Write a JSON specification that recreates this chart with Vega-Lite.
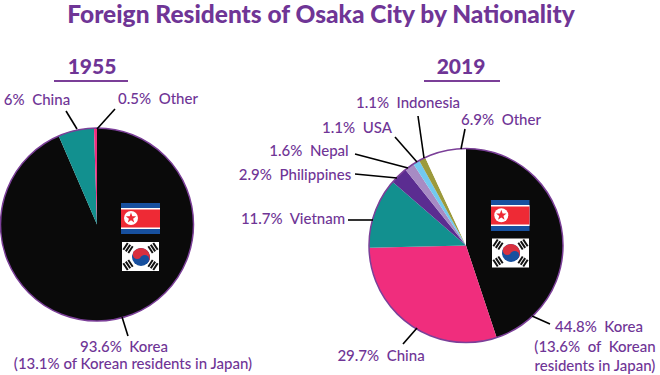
{
"$schema":"https://vega.github.io/schema/vega-lite/v6.json",
"width":660,"height":375,"padding":0,"autosize":{"type":"none"},
"background":"white",
"title":{"text":"Foreign Residents of Osaka City by Nationality","font":"Lato","fontWeight":900,"fontSize":24.5,"color":"#6f3596","anchor":"middle","frame":"group","offset":-24,"dx":-9,"dy":4},
"config":{"view":{"stroke":null}},
"datasets":{
"slices":[
{"year":1955,"nationality":"Korea","share":93.6,"rank":1},
{"year":1955,"nationality":"China","share":6,"rank":2},
{"year":1955,"nationality":"Other","share":0.5,"rank":3},
{"year":2019,"nationality":"Korea","share":44.8,"rank":1},
{"year":2019,"nationality":"China","share":29.7,"rank":2},
{"year":2019,"nationality":"Vietnam","share":11.7,"rank":3},
{"year":2019,"nationality":"Philippines","share":2.9,"rank":4},
{"year":2019,"nationality":"Nepal","share":1.6,"rank":5},
{"year":2019,"nationality":"USA","share":1.1,"rank":6},
{"year":2019,"nationality":"Indonesia","share":1.1,"rank":7},
{"year":2019,"nationality":"Other","share":6.9,"rank":8}],
"labels":[
{"label":"6%\u00a0 China","x":37,"y":100},
{"label":"0.5%\u00a0 Other","x":158,"y":99},
{"label":"93.6%\u00a0 Korea","x":124,"y":347},
{"label":"(13.1%\u00a0of Korean residents in Japan)","x":133,"y":364},
{"label":"1.1%\u00a0 Indonesia","x":408,"y":103},
{"label":"1.1%\u00a0 USA","x":357,"y":128},
{"label":"6.9%\u00a0 Other","x":501,"y":120},
{"label":"1.6%\u00a0 Nepal","x":309,"y":151},
{"label":"2.9%\u00a0 Philippines","x":295,"y":175},
{"label":"11.7%\u00a0 Vietnam","x":293,"y":219},
{"label":"29.7%\u00a0 China","x":381,"y":356},
{"label":"44.8%\u00a0 Korea","x":599,"y":327},
{"label":"(13.6%\u00a0 of\u00a0 Korean","x":595,"y":347},
{"label":"residents in Japan)","x":595,"y":366}],
"leaders":[
{"x":66,"y":111,"x2":77,"y2":129},
{"x":115,"y":109,"x2":97,"y2":129},
{"x":128,"y":336,"x2":122,"y2":317},
{"x":418,"y":116,"x2":424,"y2":158},
{"x":395,"y":137,"x2":417,"y2":162},
{"x":355,"y":154,"x2":408,"y2":168},
{"x":355,"y":174,"x2":397,"y2":178},
{"x":465,"y":129,"x2":461,"y2":149},
{"x":348,"y":220,"x2":373,"y2":220},
{"x":403,"y":344,"x2":417,"y2":328},
{"x":550,"y":324,"x2":532,"y2":316}],
"headers":[
{"year":"1955","x":92,"y":68,"x1":54,"x2":128,"rule":81},
{"year":"2019","x":461,"y":68,"x1":424,"x2":500,"rule":81}],
"flagRects":[
{"part":"blue","x":121,"x2":160,"y":203,"y2":234},
{"part":"white","x":121,"x2":160,"y":208,"y2":229},
{"part":"red","x":121,"x2":160,"y":209.5,"y2":227.5},
{"part":"blue","x":491,"x2":529.5,"y":200,"y2":231},
{"part":"white","x":491,"x2":529.5,"y":205,"y2":226},
{"part":"red","x":491,"x2":529.5,"y":206.5,"y2":224.5},
{"part":"white","x":122,"x2":159,"y":242,"y2":271},
{"part":"white","x":492,"x2":529,"y":238.5,"y2":267.5}],
"trigrams":[
{"x":124.7,"y":245.8,"x2":131.3,"y2":250.2},
{"x":156.3,"y":245.8,"x2":149.7,"y2":250.2},
{"x":124.7,"y":267.2,"x2":131.3,"y2":262.8},
{"x":156.3,"y":267.2,"x2":149.7,"y2":262.8},
{"x":494.7,"y":242.3,"x2":501.3,"y2":246.7},
{"x":526.3,"y":242.3,"x2":519.7,"y2":246.7},
{"x":494.7,"y":263.7,"x2":501.3,"y2":259.3},
{"x":526.3,"y":263.7,"x2":519.7,"y2":259.3}],
"stars":[{"x":131,"y":218},{"x":501.3,"y":215.3}],
"taegeuk":[{"x":141,"y":257},{"x":511,"y":253}],
"swirlRed":[{"x":137.3,"y":254.5},{"x":507.3,"y":250.5}],
"swirlBlue":[{"x":144.7,"y":259.5},{"x":514.7,"y":255.5}]
},
"resolve":{"scale":{"color":"independent","theta":"independent"}},
"layer":[
{"data":{"name":"slices"},"transform":[{"filter":"datum.year==1955"}],
 "mark":{"type":"arc","outerRadius":96.5},
 "encoding":{"x":{"datum":97,"scale":{"domain":[0,660],"nice":false,"zero":false},"axis":null},
  "y":{"datum":224.5,"scale":{"domain":[375,0],"nice":false,"zero":false},"axis":null},
  "theta":{"field":"share","type":"quantitative","stack":true},
  "order":{"field":"rank","type":"quantitative"},
  "color":{"field":"nationality","type":"nominal","legend":null,"scale":{"domain":["Korea","China","Other"],"range":["#0a0a0a","#12908f","#f02d7d"]}}}},
{"data":{"name":"slices"},"transform":[{"filter":"datum.year==2019"}],
 "mark":{"type":"arc","outerRadius":97},
 "encoding":{"x":{"datum":466,"scale":{"domain":[0,660],"nice":false,"zero":false},"axis":null},
  "y":{"datum":245.5,"scale":{"domain":[375,0],"nice":false,"zero":false},"axis":null},
  "theta":{"field":"share","type":"quantitative","stack":true},
  "order":{"field":"rank","type":"quantitative"},
  "color":{"field":"nationality","type":"nominal","legend":null,"scale":{"domain":["Korea","China","Vietnam","Philippines","Nepal","USA","Indonesia","Other"],"range":["#0a0a0a","#f02d7d","#12908f","#5b2d91","#a78bc4","#72c9f0","#9c9a3c","#ffffff"]}}}},
{"data":{"values":[{"x":97,"y":224.5}]},"mark":{"type":"point","filled":false,"stroke":"#7b3f98","strokeWidth":1.5,"size":37249,"opacity":1},
 "encoding":{"x":{"field":"x","type":"quantitative","scale":{"domain":[0,660],"nice":false,"zero":false},"axis":null},"y":{"field":"y","type":"quantitative","scale":{"domain":[375,0],"nice":false,"zero":false},"axis":null}}},
{"data":{"values":[{"x":466,"y":245.5}]},"mark":{"type":"point","filled":false,"stroke":"#7b3f98","strokeWidth":1.5,"size":37636,"opacity":1},
 "encoding":{"x":{"field":"x","type":"quantitative","scale":{"domain":[0,660],"nice":false,"zero":false},"axis":null},"y":{"field":"y","type":"quantitative","scale":{"domain":[375,0],"nice":false,"zero":false},"axis":null}}},
{"data":{"name":"leaders"},"mark":{"type":"rule","color":"#000000","strokeWidth":1.6},
 "encoding":{"x":{"field":"x","type":"quantitative","scale":{"domain":[0,660],"nice":false,"zero":false},"axis":null},"y":{"field":"y","type":"quantitative","scale":{"domain":[375,0],"nice":false,"zero":false},"axis":null},"x2":{"field":"x2"},"y2":{"field":"y2"}}},
{"data":{"name":"labels"},"mark":{"type":"text","font":"Lato","fontSize":15,"fontWeight":500,"color":"#6f3596","align":"center","baseline":"middle"},
 "encoding":{"x":{"field":"x","type":"quantitative","scale":{"domain":[0,660],"nice":false,"zero":false},"axis":null},"y":{"field":"y","type":"quantitative","scale":{"domain":[375,0],"nice":false,"zero":false},"axis":null},"text":{"field":"label"}}},
{"data":{"name":"headers"},"mark":{"type":"text","font":"Lato","fontSize":21,"fontWeight":900,"color":"#6f3596","align":"center","baseline":"middle"},
 "encoding":{"x":{"field":"x","type":"quantitative","scale":{"domain":[0,660],"nice":false,"zero":false},"axis":null},"y":{"field":"y","type":"quantitative","scale":{"domain":[375,0],"nice":false,"zero":false},"axis":null},"text":{"field":"year"}}},
{"data":{"name":"headers"},"mark":{"type":"rule","color":"#7b3f98","strokeWidth":2},
 "encoding":{"x":{"field":"x1","type":"quantitative","scale":{"domain":[0,660],"nice":false,"zero":false},"axis":null},"x2":{"field":"x2"},"y":{"field":"rule","type":"quantitative","scale":{"domain":[375,0],"nice":false,"zero":false},"axis":null}}},
{"data":{"name":"flagRects"},"mark":{"type":"rect"},
 "encoding":{"x":{"field":"x","type":"quantitative","scale":{"domain":[0,660],"nice":false,"zero":false},"axis":null},"x2":{"field":"x2"},"y":{"field":"y","type":"quantitative","scale":{"domain":[375,0],"nice":false,"zero":false},"axis":null},"y2":{"field":"y2"},
  "color":{"field":"part","type":"nominal","legend":null,"scale":{"domain":["blue","white","red"],"range":["#17509f","#ffffff","#ee2a35"]}}}},
{"data":{"name":"trigrams"},"mark":{"type":"rule","color":"#111111","strokeWidth":8,"strokeDash":[2,1]},
 "encoding":{"x":{"field":"x","type":"quantitative","scale":{"domain":[0,660],"nice":false,"zero":false},"axis":null},"y":{"field":"y","type":"quantitative","scale":{"domain":[375,0],"nice":false,"zero":false},"axis":null},"x2":{"field":"x2"},"y2":{"field":"y2"}}},
{"data":{"name":"stars"},"mark":{"type":"point","filled":true,"color":"#ffffff","size":196,"opacity":1},
 "encoding":{"x":{"field":"x","type":"quantitative","scale":{"domain":[0,660],"nice":false,"zero":false},"axis":null},"y":{"field":"y","type":"quantitative","scale":{"domain":[375,0],"nice":false,"zero":false},"axis":null}}},
{"data":{"name":"stars"},"mark":{"type":"point","filled":true,"color":"#ee2a35","size":121,"opacity":1,"shape":"M0,-1L0.24,-0.31 0.95,-0.31 0.38,0.12 0.59,0.81 0,0.4 -0.59,0.81 -0.38,0.12 -0.95,-0.31 -0.24,-0.31Z"},
 "encoding":{"x":{"field":"x","type":"quantitative","scale":{"domain":[0,660],"nice":false,"zero":false},"axis":null},"y":{"field":"y","type":"quantitative","scale":{"domain":[375,0],"nice":false,"zero":false},"axis":null}}},
{"data":{"name":"taegeuk"},"mark":{"type":"point","filled":true,"color":"#17509f","size":324,"opacity":1},
 "encoding":{"x":{"field":"x","type":"quantitative","scale":{"domain":[0,660],"nice":false,"zero":false},"axis":null},"y":{"field":"y","type":"quantitative","scale":{"domain":[375,0],"nice":false,"zero":false},"axis":null}}},
{"data":{"name":"taegeuk"},"mark":{"type":"arc","color":"#d9303f","outerRadius":9,"theta":-0.98,"theta2":2.16},
 "encoding":{"x":{"field":"x","type":"quantitative","scale":{"domain":[0,660],"nice":false,"zero":false},"axis":null},"y":{"field":"y","type":"quantitative","scale":{"domain":[375,0],"nice":false,"zero":false},"axis":null}}},
{"data":{"name":"swirlRed"},"mark":{"type":"point","filled":true,"color":"#d9303f","size":81,"opacity":1},
 "encoding":{"x":{"field":"x","type":"quantitative","scale":{"domain":[0,660],"nice":false,"zero":false},"axis":null},"y":{"field":"y","type":"quantitative","scale":{"domain":[375,0],"nice":false,"zero":false},"axis":null}}},
{"data":{"name":"swirlBlue"},"mark":{"type":"point","filled":true,"color":"#17509f","size":81,"opacity":1},
 "encoding":{"x":{"field":"x","type":"quantitative","scale":{"domain":[0,660],"nice":false,"zero":false},"axis":null},"y":{"field":"y","type":"quantitative","scale":{"domain":[375,0],"nice":false,"zero":false},"axis":null}}}
]
}
